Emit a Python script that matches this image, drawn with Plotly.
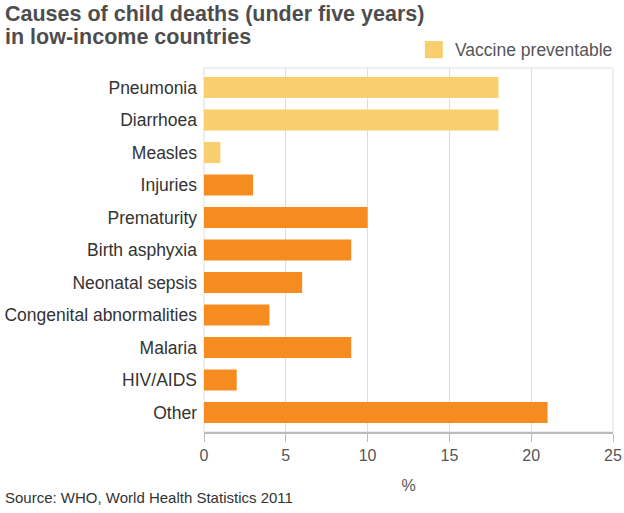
import plotly.graph_objects as go

causes = ["Pneumonia", "Diarrhoea", "Measles", "Injuries", "Prematurity",
          "Birth asphyxia", "Neonatal sepsis", "Congenital abnormalities",
          "Malaria", "HIV/AIDS", "Other"]
percent = [18, 18, 1, 3, 10, 9, 6, 4, 9, 2, 21]
vaccine_preventable = [True, True, True, False, False, False, False, False,
                       False, False, False]

YELLOW = "#F9CE6F"
ORANGE = "#F68B1F"
FONT = "Liberation Sans, Arial, sans-serif"

colors = [YELLOW if v else ORANGE for v in vaccine_preventable]

fig = go.Figure()

fig.add_trace(
    go.Bar(
        x=percent,
        y=causes,
        orientation="h",
        marker=dict(color=colors, line=dict(width=0)),
        width=0.65,
        showlegend=False,
        hovertemplate="%{y}: %{x}%<extra></extra>"
    )
)

# plot area: 204..613 px wide, 68..432 px tall
fig.update_layout(
    width=624,
    height=513,
    margin=dict(l=204, r=11, t=68, b=81, autoexpand=False),
    plot_bgcolor="white",
    paper_bgcolor="white",
    font=dict(family=FONT, color="#444444"),
    xaxis=dict(
        range=[0, 25],
        tickvals=[0, 5, 10, 15, 20, 25],
        automargin=False,
        showgrid=True,
        gridcolor="#dddddd",
        gridwidth=1,
        zeroline=False,
        showline=True,
        linecolor="#bbbbbb",
        linewidth=1.5,
        ticks="outside",
        ticklen=8,
        tickcolor="#bbbbbb",
        tickfont=dict(size=16, color="#555555"),
        title=dict(text="%", font=dict(size=16, color="#555555"), standoff=17),
    ),
    yaxis=dict(
        type="category",
        categoryorder="array",
        categoryarray=causes,
        range=[10.6, -0.6],
        automargin=False,
        showgrid=False,
        zeroline=False,
        ticks="",
        ticklabelstandoff=6,
        tickfont=dict(size=17.5, color="#333333"),
    ),
    shapes=[
        dict(type="rect", xref="paper", yref="paper", x0=0, x1=1, y0=0, y1=1,
             line=dict(color="#dddddd", width=1), layer="below"),
        dict(type="rect", xref="paper", yref="paper", x0=0.540, x1=0.584,
             y0=1.027, y1=1.074, fillcolor=YELLOW, line=dict(width=0)),
    ],
    annotations=[
        dict(text="<b>Causes of child deaths (under five years)</b>",
             xref="paper", yref="paper", x=-0.492, y=1.148,
             xanchor="left", yanchor="middle", showarrow=False,
             font=dict(size=21.5, color="#4d4d4d")),
        dict(text="<b>in low-income countries</b>",
             xref="paper", yref="paper", x=-0.492, y=1.085,
             xanchor="left", yanchor="middle", showarrow=False,
             font=dict(size=21.5, color="#4d4d4d")),
        dict(text="Vaccine preventable", xref="paper", yref="paper",
             x=0.610, y=1.049, xanchor="left", yanchor="middle", showarrow=False,
             font=dict(size=17.5, color="#555555")),
        dict(text="Source: WHO, World Health Statistics 2011", xref="paper",
             yref="paper", x=-0.492, y=-0.1786, xanchor="left", yanchor="middle",
             showarrow=False, font=dict(size=15, color="#333333")),
    ],
)

fig.write_html(
    "out.html",
    config={"displayModeBar": False},
    post_script="document.body.style.margin = '0';"
)
